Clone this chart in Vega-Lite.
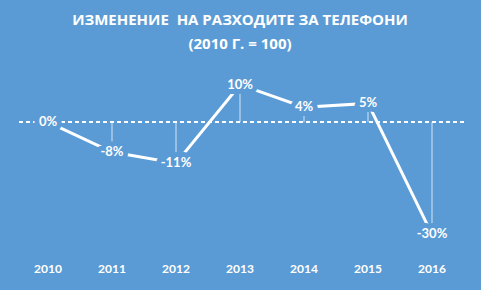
{
  "$schema": "https://vega.github.io/schema/vega-lite/v6.json",
  "autosize": "none",
  "width": 448,
  "height": 187,
  "padding": {"left": 16, "top": 66, "right": 17, "bottom": 37},
  "background": "#5B9BD5",
  "config": {"view": {"stroke": null}, "font": "Lato"},
  "title": {
    "text": ["ИЗМЕНЕНИЕ\u00a0 НА РАЗХОДИТЕ ЗА ТЕЛЕФОНИ", "(2010 Г. = 100)"],
    "color": "white",
    "font": "Open Sans",
    "fontSize": 15,
    "fontWeight": "bold",
    "lineHeight": 24,
    "anchor": "middle",
    "offset": 14
  },
  "data": {
    "values": [
      {"year": "2010", "value": 0, "label": "0%"},
      {"year": "2011", "value": -8, "label": "-8%"},
      {"year": "2012", "value": -11, "label": "-11%"},
      {"year": "2013", "value": 10, "label": "10%"},
      {"year": "2014", "value": 4, "label": "4%"},
      {"year": "2015", "value": 5, "label": "5%"},
      {"year": "2016", "value": -30, "label": "-30%"}
    ]
  },
  "encoding": {
    "x": {
      "field": "year",
      "type": "ordinal",
      "title": null,
      "scale": {"paddingInner": 0, "paddingOuter": 0},
      "axis": {
        "domain": false,
        "ticks": false,
        "labelAngle": 0,
        "labelColor": "white",
        "labelFontWeight": "bold",
        "labelFontSize": 12,
        "labelPadding": 10,
        "labelFont": "Lato"
      }
    },
    "y": {
      "field": "value",
      "type": "quantitative",
      "title": null,
      "scale": {"domain": [-35, 15], "nice": false, "zero": false},
      "axis": null
    }
  },
  "layer": [
    {
      "mark": {"type": "rule", "color": "white", "strokeDash": [4, 3], "strokeWidth": 1},
      "encoding": {"y": {"datum": 0, "type": "quantitative"}, "x": null}
    },
    {
      "mark": {"type": "rule", "color": "white", "strokeWidth": 1, "opacity": 0.75},
      "encoding": {"y2": {"datum": 0}}
    },
    {
      "mark": {"type": "line", "color": "white", "strokeWidth": 3}
    },
    {
      "mark": {"type": "text", "font": "Lato", "fontSize": 13, "fontWeight": "bold", "stroke": "#5B9BD5", "strokeWidth": 10, "strokeJoin": "round", "fill": "#5B9BD5"},
      "encoding": {"text": {"field": "label"}}
    },
    {
      "mark": {"type": "text", "font": "Lato", "fontSize": 13, "fontWeight": "bold", "fill": "white"},
      "encoding": {"text": {"field": "label"}}
    }
  ]
}
